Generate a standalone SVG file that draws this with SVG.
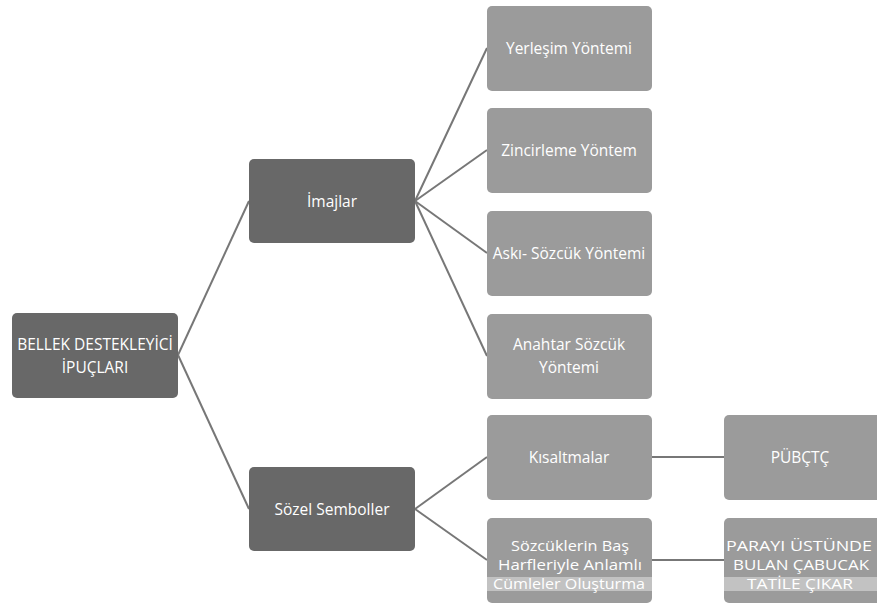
<svg xmlns="http://www.w3.org/2000/svg" width="877" height="603" viewBox="0 0 877 603">
  <style>
    .dark { fill: #686868; }
    .light { fill: #9b9b9b; }
    .band { fill: #c2c2c2; }
    .lbl { fill: #ffffff; font-family: "Open Sans", "Liberation Sans", sans-serif; font-size: 15.5px; text-anchor: middle; dominant-baseline: central; }
    .tight { font-size: 14px; }
    .conn { stroke: #777777; stroke-width: 2; fill: none; }
  </style>
  <rect width="877" height="603" fill="#ffffff"/>

  <g id="connectors">
    <line class="conn" x1="178" y1="355" x2="249" y2="201"/>
    <line class="conn" x1="178" y1="355" x2="249" y2="509"/>
    <line class="conn" x1="415" y1="201" x2="487" y2="48"/>
    <line class="conn" x1="415" y1="201" x2="487" y2="150"/>
    <line class="conn" x1="415" y1="201" x2="487" y2="253"/>
    <line class="conn" x1="415" y1="201" x2="487" y2="356"/>
    <line class="conn" x1="415" y1="509" x2="487" y2="457"/>
    <line class="conn" x1="415" y1="509" x2="487" y2="560"/>
    <line class="conn" x1="652" y1="457" x2="724" y2="457"/>
    <line class="conn" x1="652" y1="560" x2="724" y2="560"/>
  </g>

  <g id="root">
    <rect class="dark" x="12" y="313" width="166" height="85" rx="5"/>
    <text class="lbl" x="95" y="344">BELLEK DESTEKLEYİCİ</text>
    <text class="lbl" x="95" y="367">İPUÇLARI</text>
  </g>

  <g id="imajlar">
    <rect class="dark" x="249" y="159" width="166" height="84" rx="5"/>
    <text class="lbl" x="332" y="201">İmajlar</text>
  </g>

  <g id="sozel-semboller">
    <rect class="dark" x="249" y="467" width="166" height="84" rx="5"/>
    <text class="lbl" x="332" y="509">Sözel Semboller</text>
  </g>

  <g id="yerlesim">
    <rect class="light" x="487" y="6" width="165" height="85" rx="5"/>
    <text class="lbl" x="569" y="48">Yerleşim Yöntemi</text>
  </g>

  <g id="zincirleme">
    <rect class="light" x="487" y="108" width="165" height="85" rx="5"/>
    <text class="lbl" x="569" y="150">Zincirleme Yöntem</text>
  </g>

  <g id="aski-sozcuk">
    <rect class="light" x="487" y="211" width="165" height="85" rx="5"/>
    <text class="lbl" x="569" y="253">Askı- Sözcük Yöntemi</text>
  </g>

  <g id="anahtar-sozcuk">
    <rect class="light" x="487" y="314" width="165" height="85" rx="5"/>
    <text class="lbl" x="569" y="344">Anahtar Sözcük</text>
    <text class="lbl" x="569" y="367">Yöntemi</text>
  </g>

  <g id="kisaltmalar">
    <rect class="light" x="487" y="415" width="165" height="85" rx="5"/>
    <text class="lbl" x="569" y="457">Kısaltmalar</text>
  </g>

  <g id="bas-harfler">
    <rect class="light" x="487" y="518" width="165" height="85" rx="5"/>
    <rect class="band" x="487" y="577" width="165" height="14"/>
    <text class="lbl tight" x="570" y="545" textLength="118" lengthAdjust="spacingAndGlyphs">Sözcüklerin Baş</text>
    <text class="lbl tight" x="570" y="564" textLength="144" lengthAdjust="spacingAndGlyphs">Harfleriyle Anlamlı</text>
    <text class="lbl tight" x="569" y="583" textLength="152" lengthAdjust="spacingAndGlyphs">Cümleler Oluşturma</text>
  </g>

  <g id="pubctc">
    <rect class="light" x="724" y="415" width="165" height="85" rx="5"/>
    <text class="lbl" x="800" y="457">PÜBÇTÇ</text>
  </g>

  <g id="parayi">
    <rect class="light" x="724" y="518" width="165" height="85" rx="5"/>
    <rect class="band" x="724" y="577" width="153" height="14"/>
    <text class="lbl tight" x="799" y="545" textLength="146" lengthAdjust="spacingAndGlyphs">PARAYI ÜSTÜNDE</text>
    <text class="lbl tight" x="801" y="564" textLength="136" lengthAdjust="spacingAndGlyphs">BULAN ÇABUCAK</text>
    <text class="lbl tight" x="800" y="583" textLength="106" lengthAdjust="spacingAndGlyphs">TATİLE ÇIKAR</text>
  </g>
</svg>
